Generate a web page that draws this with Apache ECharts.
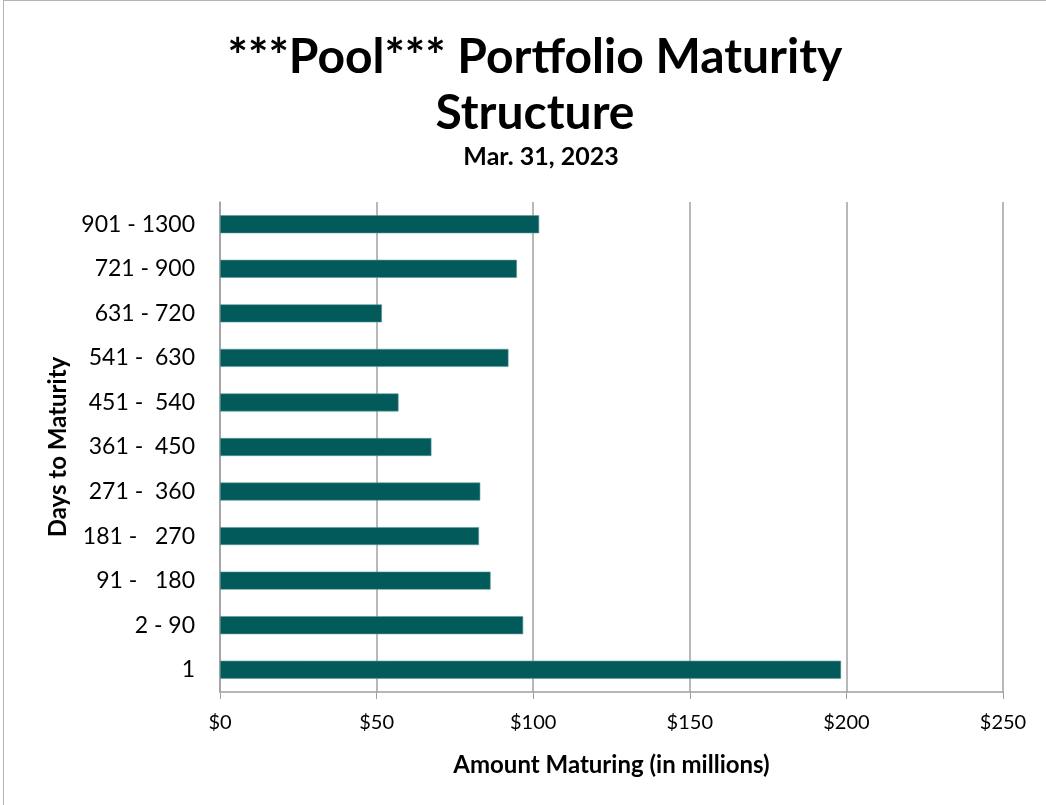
<!DOCTYPE html>
<html>
<head>
<meta charset="utf-8">
<script src="https://cdn.jsdelivr.net/npm/echarts@6/dist/echarts.min.js"></script>
<style>
  html, body { margin: 0; padding: 0; background: #fff; }
  #frame { position: absolute; left: 3px; top: 0; width: 1100px; height: 900px; border: 1px solid #b4b4b4; box-sizing: border-box; }
  #chart { position: absolute; left: 0; top: 0; width: 1046px; height: 805px; }
</style>
</head>
<body>
<div id="frame"></div>
<div id="chart"></div>
<script>
// bottom to top, as the category axis stacks them
const buckets = ["1", "2 - 90", "91 -   180", "181 -   270", "271 -  360", "361 -  450", "451 -  540", "541 -  630", "631 - 720", "721 - 900", "901 - 1300"];
const amounts = [198.3, 96.8, 86.4, 82.7, 83.1, 67.5, 57.0, 92.1, 51.7, 94.8, 101.9];
const xTicks = [0, 50, 100, 150, 200, 250];

const font = "Lato, 'Open Sans', sans-serif";
const chart = echarts.init(document.getElementById("chart"), null, { renderer: "canvas" });

chart.setOption({
  animation: false,
  backgroundColor: "transparent",
  title: [
    {
      text: "***Pool*** Portfolio Maturity\nStructure",
      left: 530, top: 25, textAlign: "center",
      textStyle: { fontFamily: font, fontWeight: "bold", fontSize: 48, lineHeight: 56, color: "#000" }
    },
    {
      text: "Mar. 31, 2023",
      left: 536, top: 139, textAlign: "center",
      textStyle: { fontFamily: font, fontWeight: "bold", fontSize: 25, color: "#000" }
    }
  ],
  grid: { left: 220, right: 43, top: 202, bottom: 113, containLabel: false },
  xAxis: {
    type: "value",
    min: xTicks[0], max: xTicks[xTicks.length - 1], interval: 50,
    name: "Amount Maturing (in millions)",
    nameLocation: "middle", nameGap: 61,
    nameTextStyle: { fontFamily: font, fontWeight: "bold", fontSize: 24, color: "#000" },
    axisLine: { show: true, lineStyle: { color: "#a0a0a0", width: 1.5 } },
    axisTick: { show: true, length: 7, lineStyle: { color: "#a0a0a0" } },
    axisLabel: { fontFamily: font, fontSize: 20, color: "#000", margin: 21, formatter: (v) => "$" + v },
    splitLine: { show: true, lineStyle: { color: "#a0a0a0", width: 1.5 } }
  },
  yAxis: {
    type: "category",
    data: buckets,
    name: "Days to Maturity",
    nameLocation: "middle", nameGap: 148, nameRotate: 90,
    nameTextStyle: { fontFamily: font, fontWeight: "bold", fontSize: 24, color: "#000" },
    axisLine: { show: true, lineStyle: { color: "#a0a0a0", width: 1.5 } },
    axisTick: { show: false },
    axisLabel: { fontFamily: font, fontSize: 23, color: "#000", margin: 25 },
    splitLine: { show: false }
  },
  series: [
    {
      type: "bar",
      data: amounts,
      barWidth: 18,
      itemStyle: { color: "#025a5a", borderColor: "#5e9a9a", borderWidth: 0.6 }
    }
  ]
});
</script>
</body>
</html>
